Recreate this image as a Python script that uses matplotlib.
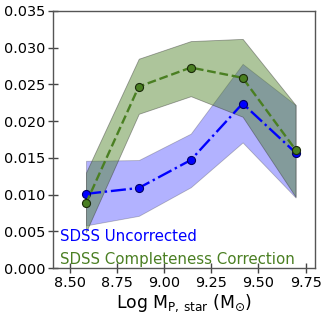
import numpy as np
import matplotlib
matplotlib.use("Agg")
import matplotlib.pyplot as plt

# log stellar mass bins
mass = [8.585, 8.865, 9.141, 9.416, 9.697]

# SDSS uncorrected
unc = [0.0101, 0.0109, 0.0147, 0.0224, 0.0157]
unc_lo = [0.0058, 0.0071, 0.0110, 0.0171, 0.0096]
unc_hi = [0.0146, 0.0147, 0.0183, 0.0278, 0.0222]

# SDSS completeness corrected
cor = [0.0088, 0.0247, 0.0273, 0.0259, 0.0161]
cor_lo = [0.0049, 0.0210, 0.0234, 0.0206, 0.0097]
cor_hi = [0.0130, 0.0285, 0.0309, 0.0312, 0.0222]

BLUE = "#0000ff"
GREEN = "#4a7f22"

fig = plt.figure(figsize=(3.29, 3.14), dpi=100)
ax = fig.add_axes([53 / 329, 1 - 268 / 314, 262 / 329, 257 / 314])

ax.fill_between(mass, unc_lo, unc_hi, color=BLUE, alpha=0.3, edgecolor="#333333", linewidth=0.6)
ax.fill_between(mass, cor_lo, cor_hi, color=GREEN, alpha=0.45, edgecolor="#333333", linewidth=0.6)
ax.plot(mass, unc, color=BLUE, linestyle="-.", linewidth=1.7, marker="o", markersize=5.8,
        markerfacecolor=BLUE, markeredgecolor="#000066", markeredgewidth=0.8)
ax.plot(mass, cor, color=GREEN, linestyle="--", linewidth=1.7, marker="o", markersize=5.8,
        markerfacecolor=GREEN, markeredgecolor="#1a2a0a", markeredgewidth=0.8)

ax.text(0.025, 0.105, "SDSS Uncorrected", color=BLUE, transform=ax.transAxes, fontsize=10.8)
ax.text(0.025, 0.015, "SDSS Completeness Correction", color=GREEN, transform=ax.transAxes, fontsize=10.8)

ax.set_xlim(8.41, 9.80)
ax.set_ylim(0, 0.035)
ax.set_xticks([8.50, 8.75, 9.00, 9.25, 9.50, 9.75])
ax.set_xticklabels(["8.50", "8.75", "9.00", "9.25", "9.50", "9.75"])
ax.set_yticks(np.arange(0, 0.0351, 0.005))
ax.set_yticklabels(["%.3f" % v for v in np.arange(0, 0.0351, 0.005)])
ax.tick_params(direction="inout", length=7, width=1, color="#444444", pad=2, labelsize=10.4)
for s in ax.spines.values():
    s.set_color("#555555")
    s.set_linewidth(1)
ax.set_xlabel(r"Log M$_{\rm P,\,star}$ (M$_{\odot}$)", fontsize=12.4, labelpad=2)

fig.savefig("out.png", dpi=100)
